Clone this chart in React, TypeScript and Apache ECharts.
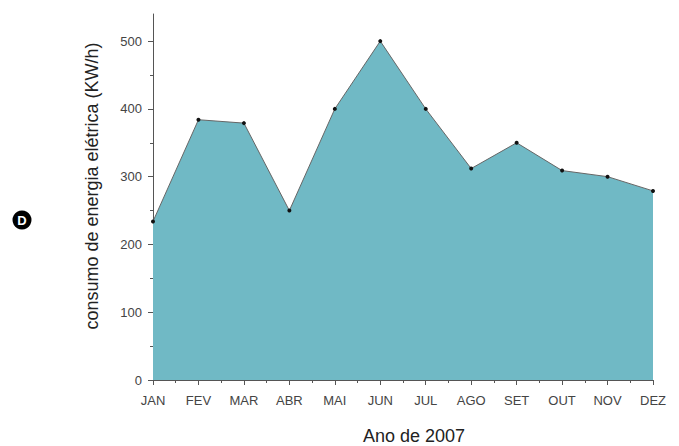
import React, { useEffect, useRef } from "react";
import * as echarts from "echarts";

const months = ["JAN", "FEV", "MAR", "ABR", "MAI", "JUN", "JUL", "AGO", "SET", "OUT", "NOV", "DEZ"];
const consumo = [234, 384, 379, 250, 400, 500, 400, 312, 350, 309, 300, 279];
const yMajor = [0, 100, 200, 300, 400, 500];
const yMinor = [50, 150, 250, 350, 450];

export default function App() {
  const ref = useRef<HTMLDivElement>(null);
  useEffect(() => {
    document.body.style.margin = "0";
    const chart = echarts.init(ref.current!, null, { renderer: "svg" });
    const axisColor = "#555";
    chart.setOption({
      animation: false,
      backgroundColor: "#fff",
      grid: { left: 153, right: 26, top: 14, bottom: 66 },
      xAxis: {
        type: "value",
        min: 0,
        max: 11,
        interval: 1,
        axisLine: { show: true, lineStyle: { color: axisColor, width: 1 } },
        axisTick: { show: true, inside: false, length: 5, lineStyle: { color: axisColor } },
        minorTick: { show: true, splitNumber: 2, length: 3, lineStyle: { color: axisColor } },
        splitLine: { show: false },
        axisLabel: {
          margin: 14,
          fontFamily: "Liberation Sans",
          fontSize: 13,
          color: "#444",
          formatter: (v: number) => months[v] ?? "",
        },
      },
      yAxis: [
        {
          type: "value",
          min: 0,
          max: 540,
          axisLine: { show: true, lineStyle: { color: axisColor, width: 1 } },
          axisTick: { show: true, length: 5, customValues: yMajor, lineStyle: { color: axisColor } },
          splitLine: { show: false },
          axisLabel: {
            customValues: yMajor,
            margin: 11,
            fontFamily: "Liberation Sans",
            fontSize: 13,
            color: "#444",
          },
        },
        {
          type: "value",
          min: 0,
          max: 540,
          position: "left",
          axisLine: { show: false },
          axisTick: { show: true, length: 3, customValues: yMinor, lineStyle: { color: axisColor } },
          axisLabel: { show: false, customValues: yMinor },
          splitLine: { show: false },
        },
      ],
      graphic: [
        {
          type: "text",
          x: 92,
          y: 186,
          rotation: Math.PI / 2,
          style: {
            text: "consumo de energia elétrica (KW/h)",
            fontFamily: "Liberation Sans",
            fontSize: 18,
            fill: "#222",
            textAlign: "center",
            textVerticalAlign: "middle",
          },
        },
        {
          type: "text",
          x: 414,
          y: 436,
          style: {
            text: "Ano de 2007",
            fontFamily: "Liberation Sans",
            fontSize: 18,
            fill: "#222",
            textAlign: "center",
            textVerticalAlign: "middle",
          },
        },
        { type: "circle", shape: { cx: 22, cy: 220, r: 9.5 }, style: { fill: "#000" } },
        {
          type: "text",
          x: 22,
          y: 220,
          style: {
            text: "D",
            fontFamily: "Liberation Sans",
            fontWeight: "bold",
            fontSize: 13,
            fill: "#fff",
            textAlign: "center",
            textVerticalAlign: "middle",
          },
        },
      ],
      series: [
        {
          type: "line",
          data: consumo.map((v, i) => [i, v]),
          symbol: "circle",
          symbolSize: 4,
          itemStyle: { color: "#111" },
          lineStyle: { color: "#666", width: 1 },
          areaStyle: { color: "#70b9c5", opacity: 1 },
        },
      ],
    });
    return () => chart.dispose();
  }, []);
  return <div ref={ref} style={{ width: 679, height: 446 }} />;
}
